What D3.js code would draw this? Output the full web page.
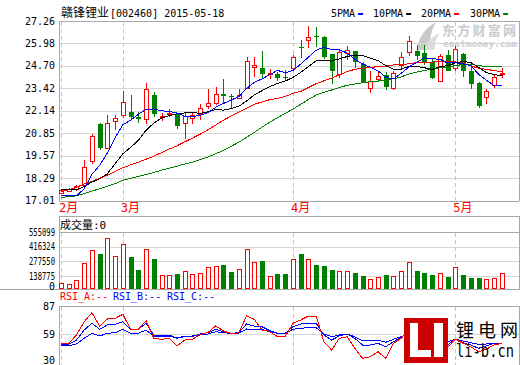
<!DOCTYPE html>
<html>
<head>
<meta charset="utf-8">
<script src="https://cdn.jsdelivr.net/npm/d3@7"></script>
<style>
html, body { margin: 0; padding: 0; background: #fff; }
svg { display: block; }
text { font-family: "DejaVu Sans Mono", "Noto Sans CJK SC", monospace; }
</style>
</head>
<body>
<div id="chart"></div>
<script>
// ---- data ----
const title = ['赣锋锂业', '[002460] 2015-05-18'];
const monthLabels = ['2月', '3月', '4月', '5月'];
const monthStarts = [0, 8, 30, 51];

const opens  = [17.43,17.58,17.64,17.91,19.26,21.39,20.02,21.56,21.87,22.09,21.75,21.64,23.06,21.78,21.95,21.94,21.45,21.73,21.94,22.40,22.59,23.10,22.95,22.89,23.43,24.62,24.57,24.21,24.26,24.06,24.59,25.80,26.19,26.38,26.37,25.35,24.25,25.45,25.52,24.82,23.43,23.96,24.15,23.43,24.76,25.48,25.52,25.45,24.91,23.81,25.29,24.59,25.39,24.38,23.73,22.91,23.58,24.26];
const highs  = [17.66,17.70,17.91,19.30,20.82,21.42,21.92,21.87,23.29,23.01,22.05,23.73,23.20,21.98,22.25,21.96,22.05,22.05,22.53,23.35,23.48,23.96,23.10,23.39,25.18,25.18,25.54,24.53,24.35,24.49,25.33,26.20,26.95,26.89,26.40,25.36,25.67,25.86,25.55,24.91,24.38,24.34,24.34,24.38,25.48,26.38,25.90,25.90,25.10,25.39,25.58,25.86,25.42,24.82,23.75,23.35,24.15,24.57];
const lows   = [17.40,17.55,17.57,17.88,19.07,19.87,19.98,21.01,21.71,21.68,21.43,21.37,21.77,21.54,21.77,21.07,20.54,21.39,21.62,22.25,22.44,22.59,22.28,22.85,23.40,24.09,23.92,23.92,23.85,23.86,24.49,25.14,25.71,25.80,25.10,23.68,23.99,25.01,24.57,23.70,23.16,23.90,23.33,23.31,24.59,25.27,25.01,24.72,23.92,23.80,24.40,24.38,24.05,23.39,22.28,22.53,23.43,23.99];
const closes = [17.63,17.65,17.83,18.92,20.72,20.00,21.45,21.73,22.65,21.77,21.69,23.39,21.94,21.83,22.00,21.26,21.81,21.91,22.28,22.55,23.10,22.97,22.92,23.06,24.99,24.76,24.21,24.30,23.99,24.02,25.21,25.69,26.32,26.33,25.19,24.40,25.50,25.62,24.91,23.71,23.85,24.13,23.48,24.30,25.23,26.09,25.25,24.91,23.99,25.25,24.43,25.67,24.38,23.68,22.40,23.27,24.04,24.30];
const volumes = [74000,64700,105000,261600,386300,348800,496000,327300,442600,317900,198800,392900,299100,149100,149100,161300,186600,161300,167800,224100,233500,242900,180000,205400,398500,273800,283200,139700,161300,161300,299100,348800,299100,245700,236300,198800,189400,189400,170700,142500,111600,130300,151900,139700,189400,273800,189400,170700,151900,170700,133200,224100,149100,123800,123800,111600,121000,170700];

const ma5  = [17.30,17.28,17.27,17.68,18.50,19.02,19.72,20.60,21.33,21.60,21.93,22.22,22.24,22.13,22.10,22.00,21.82,21.80,21.88,22.02,22.33,22.55,22.74,22.94,23.41,23.76,23.95,24.20,24.44,24.30,24.43,24.80,25.19,25.59,25.76,25.63,25.61,25.43,25.08,24.80,24.62,24.42,24.05,23.95,24.27,24.64,24.89,25.16,25.10,25.08,24.86,24.88,24.81,24.72,24.22,23.89,23.57,23.56];
const ma10 = [17.64,17.62,17.62,17.81,18.06,18.25,18.54,19.11,19.68,20.04,20.44,21.02,21.43,21.72,21.85,21.97,22.01,22.03,21.99,22.07,22.21,22.17,22.26,22.39,22.69,23.04,23.28,23.51,23.69,23.83,24.04,24.32,24.66,24.98,25.00,24.97,25.10,25.23,25.32,25.29,25.15,25.00,24.71,24.51,24.51,24.68,24.66,24.59,24.49,24.65,24.71,24.86,24.95,24.89,24.61,24.32,24.20,24.14];
const ma20 = [17.53,17.62,17.76,17.95,18.10,18.28,18.46,18.66,18.88,19.04,19.20,19.37,19.54,19.74,19.95,20.13,20.36,20.57,20.80,21.05,21.32,21.59,21.84,22.05,22.27,22.50,22.64,22.77,22.84,22.95,23.13,23.24,23.46,23.68,23.84,24.00,24.19,24.37,24.50,24.56,24.60,24.66,24.68,24.75,24.76,24.82,24.88,24.91,24.91,24.97,24.93,24.93,24.83,24.70,24.56,24.50,24.43,24.36];
const ma30 = [17.20,17.22,17.28,17.40,17.55,17.68,17.83,17.97,18.16,18.27,18.38,18.50,18.61,18.74,18.86,18.97,19.09,19.20,19.34,19.49,19.68,19.87,20.10,20.34,20.62,20.90,21.20,21.48,21.74,21.98,22.23,22.50,22.78,23.03,23.18,23.32,23.46,23.59,23.66,23.73,23.80,23.83,23.88,23.96,24.07,24.23,24.34,24.44,24.50,24.59,24.63,24.72,24.77,24.79,24.71,24.66,24.65,24.65];

const rsiA = [49.7,49.7,58,71.3,80.3,67,74,74.7,78.7,63.7,63.7,72.3,54.7,53.7,54.7,47,53,53.7,58.7,60.3,67,62.3,59,60.3,77,73.7,63,61.3,56.3,56.3,69.7,73,77,77,51.3,43,54.7,56.3,44.7,34.7,36.3,41.3,34.7,49.7,54.7,63.7,56.3,49.7,44.7,53,45.7,53.7,49.7,46.3,41.3,43.7,48,49.7];
const rsiB = [48,48.7,53,63,69.7,63.7,68,68.7,71.3,63.7,63.7,69.7,58,57.3,58,54.7,56.3,56.3,59,60.3,63.7,61.3,59.7,60.3,69,67,66.3,62.3,59.7,59.7,66.3,69,69.7,69.7,58,53,57,59,54.7,48,48,49.7,46.3,51.3,55.7,60.3,56.3,53,49.7,52.3,48,53.7,50.3,48,44.7,47,49.7,49.7];
const rsiC = [47,47.3,49,54.7,59.7,57,59.7,60.3,63.7,59.7,59.7,63,57,56.3,56.3,55.7,56.3,57,58,59,61.3,60.3,59.7,59.7,64,63,63.7,61.3,59.7,59.7,63.7,64.7,65.3,65.3,59,56.3,58,59,56.3,52.3,52.3,53,50.7,53.7,56.3,59,57,54.7,53,53.7,51.3,53.7,52,50.3,48.7,49,49.7,49.7];

const priceTicks = [17.01, 18.29, 19.57, 20.85, 22.14, 23.42, 24.70, 25.98, 27.26];
const volTicks = [0, 138775, 277550, 416324, 555099];
const rsiTicks = [30, 59, 87];
const maNames = ['5PMA', '10PMA', '20PMA', '30PMA'];

// ---- layout ----
const W = 520, H = 365;
const L = 59, R = 519;
const RED = '#ff0000', GREEN = '#008000', BLUE = '#0000ff';
const GRID = '#d6d6d6', FRAME = '#a8a8a8', DASH = '#c4c4c4';
const maColors = [BLUE, '#000000', RED, GREEN];

const svg = d3.select('#chart').append('svg')
  .attr('width', W).attr('height', H);

const x = d3.scaleLinear().domain([0, closes.length - 1]).range([61, 501.7]);
const yP = d3.scaleLinear().domain([17.01, 27.26]).range([200.5, 21]);
const yV = d3.scaleLinear().domain([0, 555099]).range([291, 232]);
const yR = d3.scaleLinear().domain([30, 87]).range([363, 306]);

const px = v => Math.round(v) + 0.5;
const VBASE = 289;

const rows = opens.map((o, i) => ({
  i, o, h: highs[i], l: lows[i], c: closes[i], v: volumes[i], up: closes[i] >= o
}));

function hline(g, y, x1, x2, color, dash) {
  g.append('line')
    .attr('x1', x1).attr('x2', x2).attr('y1', px(y)).attr('y2', px(y))
    .attr('stroke', color).attr('stroke-dasharray', dash || null);
}
function vline(g, xx, y1, y2, color, dash) {
  g.append('line')
    .attr('x1', px(xx)).attr('x2', px(xx)).attr('y1', y1).attr('y2', y2)
    .attr('stroke', color).attr('stroke-dasharray', dash || null);
}

// ---- watermark (behind everything) ----
const wm = svg.append('g').attr('fill', '#cacaca');
wm.append('path').attr('d', 'M417,50 C418,38 425,28 436,22 C431,31 429,40 430,50 Z');
wm.append('path').attr('d', 'M424,50 C427,42 432,36 440,33 C436,39 434,44 435,50 Z').attr('fill', '#dedede');
wm.append('text').attr('x', 442).attr('y', 35).attr('font-size', 13).attr('font-weight', 'bold')
  .attr('font-family', '"Noto Sans CJK SC"').attr('textLength', 74).text('东方财富网');
wm.append('text').attr('x', 443).attr('y', 47).attr('font-size', 9).attr('font-weight', 'bold')
  .attr('font-family', '"DejaVu Sans"').attr('textLength', 74).attr('lengthAdjust', 'spacingAndGlyphs')
  .text('eastmoney.com');

const frame = svg.append('g').attr('shape-rendering', 'crispEdges');

// price grid
priceTicks.forEach((t, k) => {
  const isEdge = k === 0 || k === priceTicks.length - 1;
  hline(frame, yP(t), L, R, isEdge ? FRAME : GRID);
});
// volume grid
hline(frame, 216, L, R + 1, FRAME);
volTicks.forEach(t => {
  if (t === 0) return;
  hline(frame, yV(t), L, R, t === 555099 ? FRAME : GRID);
});
hline(frame, VBASE, 0, W, FRAME);
// rsi grid
hline(frame, yR(87), L, R, FRAME);
hline(frame, yR(59), L, R, GRID);

// month dashed lines
monthStarts.forEach(m => {
  const xx = x(m);
  vline(frame, xx, 22, 200, DASH, '4,3');
  vline(frame, xx, 233, VBASE, DASH, '4,3');
  vline(frame, xx, 307, H, DASH, '4,3');
});

// panel side borders
vline(frame, L - 0.5, 21, 201, FRAME);
vline(frame, R, 21, 201, FRAME);
vline(frame, L - 0.5, 216, VBASE, FRAME);
vline(frame, R, 216, VBASE, FRAME);
vline(frame, L - 0.5, yR(87), H, FRAME);
vline(frame, R, yR(87), H, FRAME);

// ---- candles ----
const candles = svg.append('g').attr('shape-rendering', 'crispEdges');
candles.selectAll('line.wick')
  .data(rows).enter().append('line')
  .attr('class', 'wick')
  .attr('x1', d => px(x(d.i))).attr('x2', d => px(x(d.i)))
  .attr('y1', d => yP(d.h)).attr('y2', d => yP(d.l))
  .attr('stroke', d => d.up ? RED : GREEN);

candles.selectAll('rect.body')
  .data(rows).enter().append('rect')
  .attr('class', 'body')
  .attr('x', d => d.up ? Math.round(x(d.i)) - 1.5 : Math.round(x(d.i)) - 2)
  .attr('y', d => {
    const top = yP(Math.max(d.o, d.c));
    return d.up ? Math.round(top) + 0.5 : Math.round(top);
  })
  .attr('width', d => d.up ? 4 : 5)
  .attr('height', d => {
    const hgt = Math.round(yP(Math.min(d.o, d.c))) - Math.round(yP(Math.max(d.o, d.c)));
    return d.up ? Math.max(hgt, 0) : Math.max(hgt, 1);
  })
  .attr('fill', d => d.up ? '#fff' : GREEN)
  .attr('stroke', d => d.up ? RED : 'none');

// ---- moving averages ----
const lineP = d3.line().x((d, i) => x(i)).y(d => yP(d));
const maGroup = svg.append('g').attr('fill', 'none').attr('shape-rendering', 'crispEdges');
[ma30, ma20, ma10, ma5].forEach((s, k) => {
  maGroup.append('path').attr('d', lineP(s))
    .attr('stroke', maColors[3 - k]).attr('stroke-width', 1);
});

// ---- volume bars ----
const vol = svg.append('g').attr('shape-rendering', 'crispEdges');
vol.selectAll('rect')
  .data(rows).enter().append('rect')
  .attr('x', d => d.up ? Math.round(x(d.i)) - 1.5 : Math.round(x(d.i)) - 2)
  .attr('y', d => d.up ? Math.round(yV(d.v)) + 0.5 : Math.round(yV(d.v)))
  .attr('width', d => d.up ? 4 : 5)
  .attr('height', d => (VBASE - Math.round(yV(d.v))) - (d.up ? 1 : 0))
  .attr('fill', d => d.up ? '#fff' : GREEN)
  .attr('stroke', d => d.up ? RED : 'none');

// ---- RSI ----
const lineR = d3.line().x((d, i) => x(i)).y(d => yR(d));
const rsiG = svg.append('g').attr('fill', 'none').attr('shape-rendering', 'crispEdges');
rsiG.append('path').attr('d', lineR(rsiC)).attr('stroke', BLUE);
rsiG.append('path').attr('d', lineR(rsiB)).attr('stroke', BLUE);
rsiG.append('path').attr('d', lineR(rsiA)).attr('stroke', RED);

// ---- axis labels ----
const labels = svg.append('g').attr('font-size', 10).attr('fill', '#000').attr('text-anchor', 'end');
priceTicks.forEach(t => {
  labels.append('text').attr('x', 55).attr('y', yP(t) + 3.6).text(t.toFixed(2));
});
volTicks.forEach(t => {
  labels.append('text').attr('x', 55).attr('y', Math.min(yV(t), 286) + 3.6)
    .attr('textLength', t === 0 ? null : 26).attr('lengthAdjust', 'spacingAndGlyphs')
    .text(t);
});
rsiTicks.forEach(t => {
  labels.append('text').attr('x', 55).attr('y', Math.min(yR(t), 360.5) + 3.6).text(t);
});

// month labels
svg.append('g').attr('fill', RED).attr('font-size', 12)
  .selectAll('text').data(monthStarts).enter().append('text')
  .attr('x', d => x(d) - 2).attr('y', 212)
  .text((d, k) => monthLabels[k]);

// ---- header texts ----
const head = svg.append('g');
head.append('text').attr('x', 61).attr('y', 17).attr('font-size', 12).text(title[0]);
head.append('text').attr('x', 110).attr('y', 17).attr('font-size', 10).text(title[1]);

const leg = head.append('g').attr('font-size', 10);
const legX = [331, 373, 421, 470];
maNames.forEach((n, k) => {
  leg.append('text').attr('x', legX[k]).attr('y', 17).text(n);
  const tx = legX[k] + n.length * 6.02 + 3;
  leg.append('rect').attr('x', tx).attr('y', 13).attr('width', 5).attr('height', 2)
    .attr('fill', maColors[k]);
});

head.append('text').attr('x', 60).attr('y', 229).attr('font-size', 11).text('成交量:0');

const rsiHead = head.append('g').attr('font-size', 10);
[['RSI_A:--', RED, 60], ['RSI_B:--', BLUE, 113], ['RSI_C:--', BLUE, 167]].forEach(d => {
  rsiHead.append('text').attr('x', d[2]).attr('y', 300).attr('fill', d[1]).text(d[0]);
});

// ---- site logo ----
const logo = svg.append('g').attr('shape-rendering', 'crispEdges');
logo.append('rect').attr('x', 404).attr('y', 318).attr('width', 44).attr('height', 45).attr('fill', '#cc0000');
logo.append('rect').attr('x', 410).attr('y', 323).attr('width', 8).attr('height', 34).attr('fill', '#fff');
logo.append('rect').attr('x', 410).attr('y', 350).attr('width', 21).attr('height', 7).attr('fill', '#fff');
logo.append('rect').attr('x', 434).attr('y', 323).attr('width', 9).attr('height', 34).attr('fill', '#fff');
svg.append('text').attr('x', 456).attr('y', 337).attr('font-size', 18)
  .attr('font-family', '"Noto Sans CJK SC"').attr('textLength', 62).text('锂电网');
svg.append('text').attr('x', 456).attr('y', 357).attr('font-size', 18)
  .attr('font-family', '"Liberation Sans", Arial').attr('textLength', 58).attr('lengthAdjust', 'spacingAndGlyphs')
  .text('li-b.cn');
</script>
</body>
</html>
